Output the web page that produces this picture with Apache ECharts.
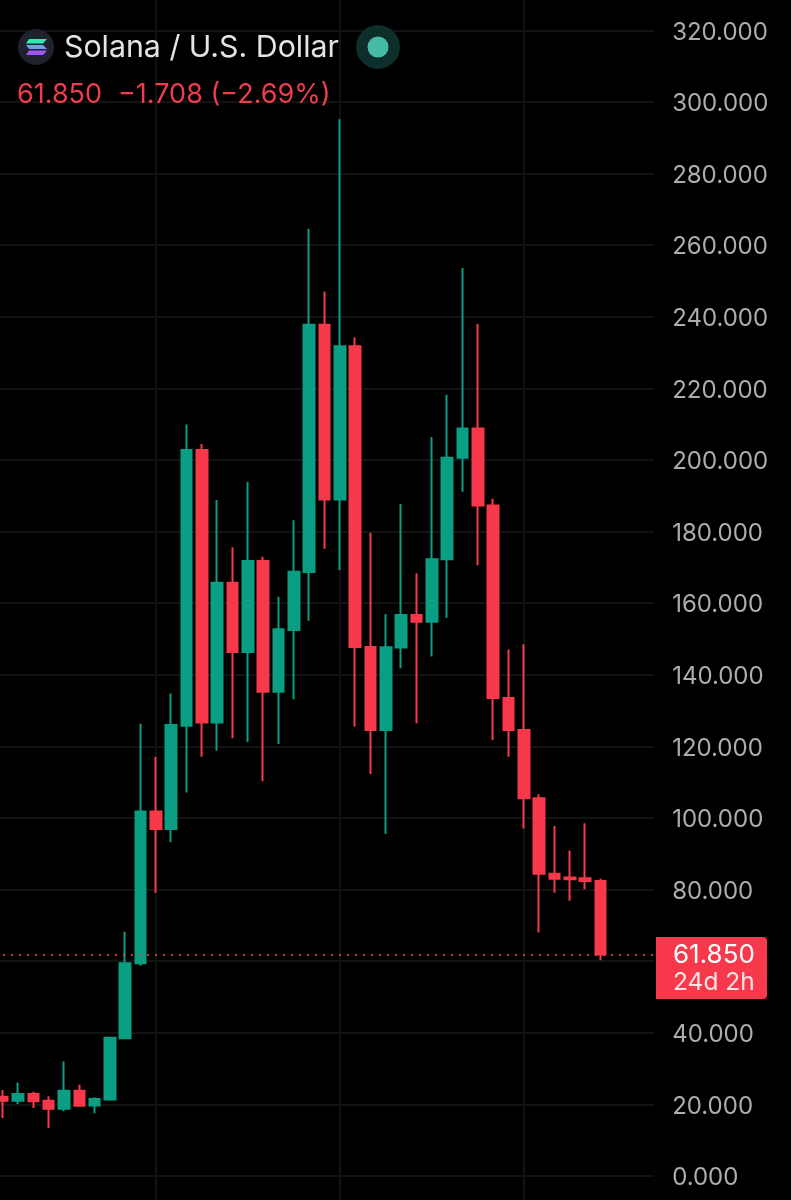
<!DOCTYPE html>
<html>
<head>
<meta charset="utf-8">
<style>html,body{margin:0;padding:0;background:#000}#c{width:791px;height:1200px}</style>
<script src="https://cdn.jsdelivr.net/npm/echarts@6/dist/echarts.min.js"></script>
</head>
<body>
<div id="c"></div>
<script>
const categories = ['2023-03','2023-04','2023-05','2023-06','2023-07','2023-08','2023-09','2023-10','2023-11','2023-12',
 '2024-01','2024-02','2024-03','2024-04','2024-05','2024-06','2024-07','2024-08','2024-09','2024-10','2024-11','2024-12',
 '2025-01','2025-02','2025-03','2025-04','2025-05','2025-06','2025-07','2025-08','2025-09','2025-10','2025-11','2025-12',
 '2026-01','2026-02','2026-03','2026-04','2026-05','2026-06','2026-07','2026-08','2026-09'];
const opens = [22.15,21.0,22.9,21.0,18.8,23.8,19.7,21.4,38.5,59.4,
 101.8,96.9,125.8,202.8,126.7,165.7,146.4,171.8,135.3,152.5,168.7,237.8,
 189.0,231.8,147.8,124.6,147.6,156.7,154.8,172.3,200.6,208.8,187.3,133.5,
 124.6,105.5,84.4,83.4,83.2,82.4];
const closes = [21.03,22.9,20.9,18.8,23.8,19.6,21.5,38.6,59.4,101.8,
 96.9,126.0,202.8,126.7,165.7,146.4,171.8,135.3,152.7,168.8,237.8,189.0,
 231.8,147.8,124.6,147.7,156.7,154.8,172.3,200.6,208.8,187.3,133.5,124.6,
 105.5,84.4,83.0,82.9,82.4,61.85];
const lows = [16.2,20.1,19.0,13.4,18.1,19.4,17.5,21.0,38.2,58.7,
 79.1,93.2,107.1,117.1,118.8,122.3,121.2,110.3,120.7,133.2,155.1,175.2,
 169.3,125.5,112.3,95.5,141.8,126.5,145.1,155.9,191.1,170.6,121.8,117.1,
 97.1,68.0,79.1,76.9,80.1,60.3];
const highs = [24.0,26.1,23.5,22.3,32.0,25.5,22.0,38.9,68.2,126.3,
 117.1,134.8,209.9,204.5,188.8,175.6,193.9,173.0,161.8,183.2,264.6,247.1,
 295.2,234.3,179.7,157.0,187.7,168.4,206.4,218.2,253.6,238.0,189.2,147.1,
 148.5,106.6,97.8,90.9,98.5,83.0];
const lastPrice = 61.85;

const RED = '#f7394b', GREEN = '#0a9e83', GRID = '#121212';
const FONT = 'Inter, "Noto Sans", sans-serif';
const chart = echarts.init(document.getElementById('c'), null, {renderer:'canvas', width:791, height:1200});
const pxPerUnit = 3.58, zeroY = 1176, yMin = -20, yMax = 340;
const band = 15.33;
chart.setOption({
  backgroundColor:'#000',
  animation:false,
  grid:{outerBoundsMode:'none', left:2.6-band/2, width:band*categories.length, top:zeroY-pxPerUnit*yMax, height:pxPerUnit*(yMax-yMin), containLabel:false},
  xAxis:{type:'category', data:categories, boundaryGap:true,
    axisLine:{show:false}, axisTick:{show:false}, axisLabel:{show:false},
    splitLine:{show:true, alignWithLabel:true, interval:(i)=>i%12===10, lineStyle:{color:GRID,width:2}}},
  yAxis:{type:'value', position:'right', min:yMin, max:yMax, interval:20,
    axisLine:{show:false}, axisTick:{show:false},
    axisLabel:{margin:18, align:'left',
      formatter:v=>(v<0||v>320||v===60)?'':'{t|'+v.toFixed(3)+'}',
      rich:{t:{color:'#adadad', fontFamily:FONT, fontSize:24, padding:[4,0,0,0]}}},
    splitLine:{show:true, lineStyle:{color:GRID,width:2}}},
  series:[{type:'candlestick', barWidth:11,
    data:categories.slice(0,opens.length).map((c,i)=>[opens[i],closes[i],lows[i],highs[i]]),
    itemStyle:{color:GREEN,color0:RED,borderColor:GREEN,borderColor0:RED,borderWidth:2},
    markLine:{silent:true,symbol:'none',label:{show:false},
      lineStyle:{color:RED,type:[2,6],width:2,opacity:.85},
      data:[{yAxis:lastPrice}]}
  }],
  graphic:{elements:[
    {type:'circle',z:100,shape:{cx:36,cy:47,r:18},style:{fill:'#1e222d'}},
    {type:'polygon',z:101,shape:{points:[[29,39],[47,39],[43,43.5],[26,43.5]]},style:{fill:'#2fe8b0'}},
    {type:'polygon',z:101,shape:{points:[[26,45],[43,45],[47,49],[29,49]]},style:{fill:'#6fa3e0'}},
    {type:'polygon',z:101,shape:{points:[[29,50.5],[47,50.5],[43,55],[26,55]]},style:{fill:'#a155f5'}},
    {type:'text',z:100,x:64,y:48,style:{text:'Solana / U.S. Dollar',fill:'#e4e4e4',font:'30.3px '+FONT,textVerticalAlign:'middle'}},
    {type:'circle',z:100,shape:{cx:378,cy:47,r:22},style:{fill:'#0d2e2a'}},
    {type:'circle',z:101,shape:{cx:378,cy:47,r:10.5},style:{fill:'#45bda6'}},
    {type:'text',z:100,x:17,y:95,style:{text:'61.850',fill:'#ee3d4d',font:'27px '+FONT,textVerticalAlign:'middle'}},
    {type:'text',z:100,x:118,y:95,style:{text:'\u22121.708 (\u22122.69%)',fill:'#ee3d4d',font:'27px '+FONT,textVerticalAlign:'middle'}},
    {type:'rect',z:100,shape:{x:656,y:937,width:111,height:62,r:[0,4,4,0]},style:{fill:RED}},
    {type:'text',z:101,x:673,y:955,style:{text:'61.850',fill:'#fff',font:'26px '+FONT,textVerticalAlign:'middle'}},
    {type:'text',z:101,x:673,y:983,style:{text:'24d 2h',fill:'#ffe3e6',font:'24.5px '+FONT,textVerticalAlign:'middle'}}
  ]}
});
</script>
</body>
</html>
